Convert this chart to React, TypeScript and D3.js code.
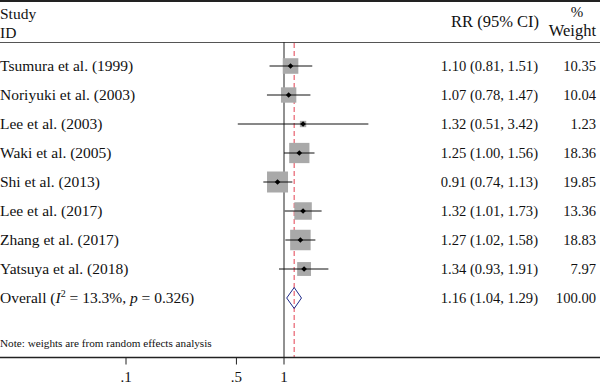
import React from "react";
import * as d3 from "d3";

const studies = [
  "Tsumura et al. (1999)",
  "Noriyuki et al. (2003)",
  "Lee et al. (2003)",
  "Waki et al. (2005)",
  "Shi et al. (2013)",
  "Lee et al. (2017)",
  "Zhang et al. (2017)",
  "Yatsuya et al. (2018)",
];
const rr = [1.1, 1.07, 1.32, 1.25, 0.91, 1.32, 1.27, 1.34];
const lower = [0.81, 0.78, 0.51, 1.0, 0.74, 1.01, 1.02, 0.93];
const upper = [1.51, 1.47, 3.42, 1.56, 1.13, 1.73, 1.58, 1.91];
const weights = [10.35, 10.04, 1.23, 18.36, 19.85, 13.36, 18.83, 7.97];
const overall = { rr: 1.16, lower: 1.04, upper: 1.29, i2: "13.3%", p: "0.326" };
const xTicks = [0.1, 0.5, 1];
const xTickLabels = [".1", ".5", "1"];

const W = 600;
const H = 387;
const FONT = "'Liberation Serif', 'DejaVu Serif', serif";

const App: React.FC = () => {
  const x = d3.scaleLog().domain([0.1, 1]).range([126, 284]);
  const y = d3.scalePoint<number>()
    .domain(d3.range(studies.length + 1))
    .range([66, 298]);
  // box side grows with sqrt(weight), small floor so tiny studies stay visible
  const box = d3.scaleSqrt().domain([0, 19.85]).range([1.5, 21]);
  const fmt = (v: number) => v.toFixed(2);
  const axisY = 357.5;
  const oy = y(studies.length) as number;
  const lab = 15.5;
  const num = 14.6;

  return (
    <svg
      width={W}
      height={H}
      style={{ position: "absolute", left: 0, top: 0, background: "#fff" }}
      fontFamily={FONT}
    >
      {/* header */}
      <line x1={0} x2={W} y1={1} y2={1} stroke="#222" strokeWidth={2} />
      <line x1={0} x2={W} y1={42.5} y2={42.5} stroke="#555" strokeWidth={1} />
      <text x={0} y={19} fontSize={lab} fill="#111">Study</text>
      <text x={0} y={38} fontSize={lab} fill="#111">ID</text>
      <text x={539} y={27} fontSize={16.5} fill="#111" textAnchor="end">RR (95% CI)</text>
      <text x={577} y={17} fontSize={15} fill="#111" textAnchor="middle">%</text>
      <text x={596} y={36} fontSize={16.5} fill="#111" textAnchor="end">Weight</text>

      {/* reference lines */}
      <line x1={x(1)} x2={x(1)} y1={42} y2={axisY} stroke="#222" strokeWidth={1} />
      <line
        x1={x(overall.rr)}
        x2={x(overall.rr)}
        y1={43}
        y2={axisY}
        stroke="#e8606e"
        strokeWidth={1.2}
        strokeDasharray="5,3"
      />

      {/* studies */}
      {studies.map((s, i) => {
        const cy = y(i) as number;
        const cx = x(rr[i]);
        const b = box(weights[i]);
        return (
          <g key={s}>
            <rect x={cx - b / 2} y={cy - b / 2} width={b} height={b} fill="#a9a9a9" />
            <line x1={x(lower[i])} x2={x(upper[i])} y1={cy} y2={cy} stroke="#111" strokeWidth={1} />
            <path d={`M${cx - 2.8},${cy}L${cx},${cy - 2.8}L${cx + 2.8},${cy}L${cx},${cy + 2.8}Z`} fill="#000" />
            <text x={0} y={cy + 5} fontSize={lab} fill="#111">{s}</text>
            <text x={538} y={cy + 5} fontSize={num} fill="#111" textAnchor="end">
              {`${fmt(rr[i])} (${fmt(lower[i])}, ${fmt(upper[i])})`}
            </text>
            <text x={596} y={cy + 5} fontSize={num} fill="#111" textAnchor="end">{fmt(weights[i])}</text>
          </g>
        );
      })}

      {/* overall */}
      <path
        d={`M${x(overall.lower)},${oy}L${x(overall.rr)},${oy - 10.5}L${x(overall.upper)},${oy}L${x(overall.rr)},${oy + 10.5}Z`}
        fill="none"
        stroke="#1f2a8a"
        strokeWidth={1}
      />
      <text x={0} y={oy + 5} fontSize={lab} fill="#111">
        Overall (<tspan fontStyle="italic">I</tspan>
        <tspan fontSize={10} dy={-6}>2</tspan>
        <tspan dy={6}> = {overall.i2}, </tspan>
        <tspan fontStyle="italic">p</tspan> = {overall.p})
      </text>
      <text x={538} y={oy + 5} fontSize={num} fill="#111" textAnchor="end">
        {`${fmt(overall.rr)} (${fmt(overall.lower)}, ${fmt(overall.upper)})`}
      </text>
      <text x={596} y={oy + 5} fontSize={num} fill="#111" textAnchor="end">100.00</text>

      <text x={0} y={347} fontSize={11.2} fill="#111">Note: weights are from random effects analysis</text>

      {/* axis */}
      <line x1={0} x2={W} y1={axisY} y2={axisY} stroke="#222" strokeWidth={1.5} />
      {xTicks.map((t, i) => (
        <g key={t}>
          <line x1={x(t)} x2={x(t)} y1={axisY} y2={axisY + 7} stroke="#222" strokeWidth={1} />
          <text x={x(t)} y={382} fontSize={15} fill="#111" textAnchor="middle">{xTickLabels[i]}</text>
        </g>
      ))}
    </svg>
  );
};

export default App;
